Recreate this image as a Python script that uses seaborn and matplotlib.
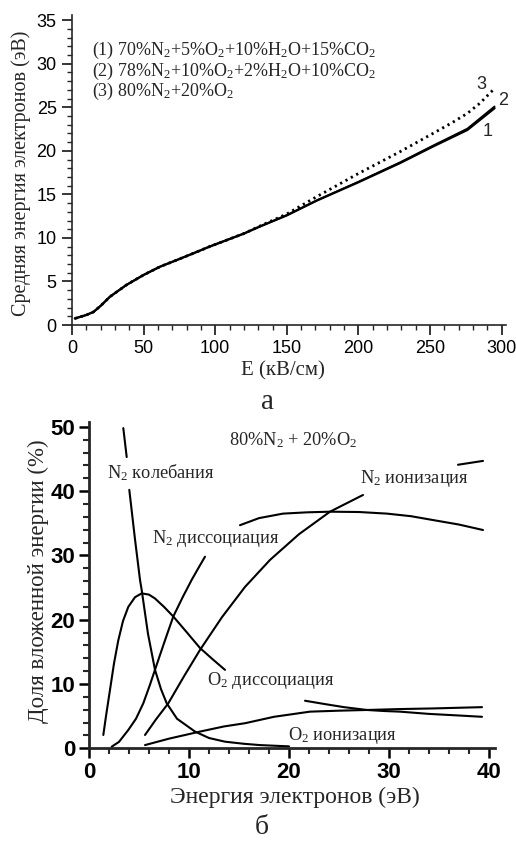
import numpy as np
import pandas as pd
import matplotlib
matplotlib.use("Agg")
import matplotlib.pyplot as plt
import seaborn as sns
from matplotlib.ticker import MultipleLocator

# ---------------- data: panel (a) ----------------
E_field = [2, 10, 15, 20, 26.5, 38, 50, 61.5, 73, 85, 96, 108, 120, 131, 150, 171, 200, 229, 252, 276, 295]
mean_energy_1 = [0.75, 1.15, 1.5, 2.2, 3.25, 4.6, 5.75, 6.7, 7.45, 8.25, 9.0, 9.75, 10.5, 11.3, 12.6, 14.3, 16.4, 18.6, 20.5, 22.4, 24.9]
mean_energy_2 = [0.75, 1.15, 1.5, 2.2, 3.25, 4.6, 5.75, 6.7, 7.45, 8.25, 9.0, 9.75, 10.5, 11.3, 12.6, 14.32, 16.45, 18.68, 20.6, 22.55, 25.1]
E_field_3 = [2, 10, 15, 20, 26.5, 38, 50, 61.5, 73, 85, 96, 108, 120, 131, 150, 171, 200, 229, 252, 265, 276, 285, 294]
mean_energy_3 = [0.75, 1.15, 1.5, 2.2, 3.25, 4.6, 5.75, 6.7, 7.45, 8.25, 9.0, 9.75, 10.5, 11.35, 12.75, 14.75, 17.4, 19.9, 22.0, 23.2, 24.3, 25.5, 27.0]
legend_a = [r"(1) 70%N$_2$+5%O$_2$+10%H$_2$O+15%CO$_2$",
            r"(2) 78%N$_2$+10%O$_2$+2%H$_2$O+10%CO$_2$",
            r"(3) 80%N$_2$+20%O$_2$"]

# ---------------- data: panel (б) ----------------
n2_vib_x1 = [3.43, 3.77]
n2_vib_y1 = [49.8, 45.3]
n2_vib_x2 = [4.03, 4.6, 5.1, 5.27, 5.9, 6.6, 7.2, 7.77, 8.8, 10.6, 12.0, 13.6, 15.5, 17.1, 20.0]
n2_vib_y2 = [40.2, 32.5, 26.2, 24.6, 17.8, 12.2, 9.2, 7.0, 4.6, 2.6, 1.6, 1.03, 0.7, 0.5, 0.3]

o2_dis_x = [1.43, 1.7, 2.1, 2.5, 2.93, 3.4, 3.93, 4.6, 5.27, 6.0, 6.6, 7.5, 8.43, 9.8, 11.1, 12.4, 13.6]
o2_dis_y = [2.07, 5.0, 9.1, 13.2, 16.8, 19.8, 22.0, 23.5, 24.1, 23.9, 23.3, 22.0, 20.5, 18.0, 15.6, 13.8, 12.2]

n2_dis_x = [2.27, 3.0, 3.93, 4.7, 5.43, 6.1, 6.77, 7.6, 8.43, 9.4, 10.27, 11.0, 11.6]
n2_dis_y = [0.25, 1.0, 2.85, 4.6, 7.0, 9.9, 13.0, 16.8, 20.5, 23.6, 26.2, 28.2, 29.8]

n2_ion_x1 = [5.6, 6.7, 7.93, 9.5, 11.1, 13.3, 15.6, 18.1, 21.0, 24.1, 27.4]
n2_ion_y1 = [2.07, 4.5, 7.0, 11.2, 15.3, 20.4, 25.1, 29.3, 33.3, 36.8, 39.4]
n2_ion_x2 = [36.9, 39.4]
n2_ion_y2 = [44.1, 44.7]

upper_x = [15.1, 17.0, 19.4, 21.8, 24.1, 27.0, 29.8, 32.2, 34.4, 37.0, 39.4]
upper_y = [34.7, 35.8, 36.5, 36.7, 36.8, 36.75, 36.5, 36.1, 35.5, 34.8, 33.95]

o2_ion_x = [5.6, 8.0, 11.1, 13.5, 15.6, 18.5, 22.1, 25.0, 27.8, 31.0, 34.4, 39.3]
o2_ion_y = [0.5, 1.5, 2.6, 3.4, 3.9, 4.9, 5.7, 5.85, 5.96, 6.1, 6.2, 6.4]

other_x = [21.6, 23.5, 25.5, 27.8, 29.5, 31.1, 34.0, 37.0, 39.3]
other_y = [7.4, 6.9, 6.4, 5.96, 5.8, 5.7, 5.35, 5.1, 4.9]

labels_b = [r"N$_2$ колебания", r"N$_2$ диссоциация", r"N$_2$ ионизация",
            r"O$_2$ диссоциация", r"O$_2$ ионизация", r"80%N$_2$ + 20%O$_2$"]

# ---------------- style ----------------
sns.set_theme(style="ticks")
plt.rcParams["font.family"] = ["Liberation Serif", "DejaVu Serif"]
plt.rcParams["mathtext.fontset"] = "custom"
plt.rcParams["mathtext.rm"] = "Liberation Serif"
plt.rcParams["mathtext.it"] = "Liberation Serif:italic"
plt.rcParams["mathtext.bf"] = "Liberation Serif:bold"

W, H = 516, 843
fig = plt.figure(figsize=(W / 100, H / 100), dpi=100)
fig.patch.set_facecolor("white")

def fx(px):
    return px / W

def fy(py):
    return 1 - py / H

# ---------------- panel a ----------------
ax1 = fig.add_axes([fx(72), fy(325), (506 - 72) / W, (325 - 15) / H])
da1 = pd.DataFrame({"E": E_field, "W": mean_energy_1})
da2 = pd.DataFrame({"E": E_field, "W": mean_energy_2})
da3 = pd.DataFrame({"E": E_field_3, "W": mean_energy_3})
sns.lineplot(data=da1, x="E", y="W", ax=ax1, color="black", lw=1.7, sort=False)
sns.lineplot(data=da2, x="E", y="W", ax=ax1, color="black", lw=1.3, sort=False)
sns.lineplot(data=da3, x="E", y="W", ax=ax1, color="black", lw=2.0,
             linestyle=(0, (0.8, 1.4)), sort=False)
ax1.set_xlim(0, 303)
ax1.set_ylim(0, 35.6)
ax1.set_xticks([0, 50, 100, 150, 200, 250, 300])
ax1.set_yticks([0, 5, 10, 15, 20, 25, 30, 35])
ax1.xaxis.set_minor_locator(MultipleLocator(10))
ax1.yaxis.set_minor_locator(MultipleLocator(1))
ax1.set_xlabel("")
ax1.set_ylabel("")
for s in ["top", "right"]:
    ax1.spines[s].set_visible(False)
for s in ["left", "bottom"]:
    ax1.spines[s].set_linewidth(1.2)
ax1.tick_params(which="major", direction="out", length=7, width=1.1, pad=4,
                labelsize=13, colors="black")
ax1.tick_params(which="minor", direction="out", length=3.5, width=1.0)
for lab in ax1.get_xticklabels() + ax1.get_yticklabels():
    lab.set_family("Liberation Sans")

for i, t in enumerate(legend_a):
    ax1.text(0.046, [0.871, 0.803, 0.739][i], t, transform=ax1.transAxes,
             fontsize=13, va="baseline", ha="left")
ax1.text(286, 27.6, "3", fontsize=13, family="Liberation Sans", ha="center", va="center")
ax1.text(301, 25.8, "2", fontsize=13, family="Liberation Sans", ha="center", va="center")
ax1.text(290, 22.2, "1", fontsize=13, family="Liberation Sans", ha="center", va="center")

fig.text(fx(21), fy(173), "Средняя энергия электронов (эВ)", rotation=90,
         ha="center", va="center", fontsize=14.5)
fig.text(fx(283), fy(371), "E (кВ/см)", ha="center", va="center", fontsize=15)
fig.text(fx(268), fy(402), "а", ha="center", va="center", fontsize=21)

# ---------------- panel b ----------------
ax2 = fig.add_axes([fx(89), fy(748.3), (495 - 89) / W, (748.3 - 422) / H])
segments = [
    (n2_vib_x1, n2_vib_y1), (n2_vib_x2, n2_vib_y2),
    (o2_dis_x, o2_dis_y), (n2_dis_x, n2_dis_y),
    (n2_ion_x1, n2_ion_y1), (n2_ion_x2, n2_ion_y2),
    (upper_x, upper_y), (o2_ion_x, o2_ion_y), (other_x, other_y),
]
for xs, ys in segments:
    d = pd.DataFrame({"x": xs, "y": ys})
    sns.lineplot(data=d, x="x", y="y", ax=ax2, color="black", lw=1.5, sort=False)
ax2.set_xlim(0, 40.6)
ax2.set_ylim(0, 50.75)
ax2.set_xticks([0, 10, 20, 30, 40])
ax2.set_yticks([0, 10, 20, 30, 40, 50])
ax2.xaxis.set_minor_locator(MultipleLocator(2))
ax2.yaxis.set_minor_locator(MultipleLocator(2))
ax2.set_xlabel("")
ax2.set_ylabel("")
for s in ["top", "right"]:
    ax2.spines[s].set_visible(False)
for s in ["left", "bottom"]:
    ax2.spines[s].set_linewidth(2.0)
ax2.tick_params(which="major", direction="out", length=7, width=1.8, pad=3,
                labelsize=16, colors="black")
ax2.tick_params(which="minor", direction="out", length=4, width=1.5)
for lab in ax2.get_xticklabels() + ax2.get_yticklabels():
    lab.set_family("Liberation Sans")
    lab.set_fontweight("bold")

label_pos = [(1.77, 42.0), (6.27, 31.9), (27.1, 41.3), (11.8, 9.85), (19.9, 1.3), (14.0, 47.2)]
for t, (x, y) in zip(labels_b, label_pos):
    ax2.text(x, y, t, fontsize=13.2, ha="left", va="baseline")

fig.text(fx(38), fy(581), "Доля вложенной энергии (%)", rotation=90,
         ha="center", va="center", fontsize=16.5)
fig.text(fx(295), fy(797), "Энергия электронов (эВ)", ha="center", va="center", fontsize=17)
fig.text(fx(262), fy(827), "б", ha="center", va="center", fontsize=20)

fig.savefig("out.png", dpi=100, facecolor="white")
